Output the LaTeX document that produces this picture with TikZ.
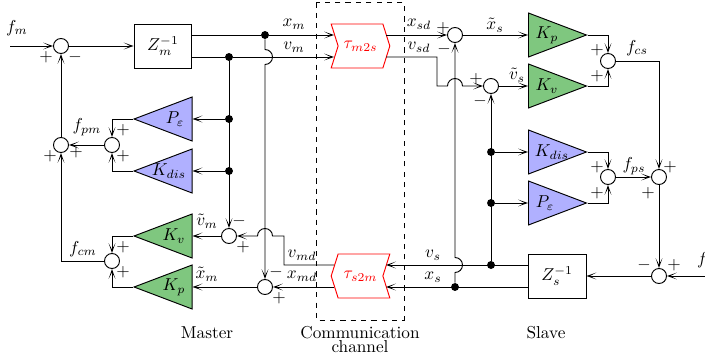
\documentclass[tikz,border=0pt]{standalone}
\usepackage{xcolor}
\usetikzlibrary{shapes.geometric, shapes.symbols, arrows.meta}
\definecolor{gaingreen}{HTML}{7FC77F}
\definecolor{gainblue}{HTML}{B0B0FF}
\begin{document}
\begin{tikzpicture}[
    x=0.58pt, y=-0.58pt,
    lw/.style={line width=0.55pt},
    sumj/.style={circle, draw, lw, fill=white, minimum size=8.7pt, inner sep=0pt},
    dotj/.style={circle, fill=black, minimum size=4.6pt, inner sep=0pt},
    gainr/.style={isosceles triangle, isosceles triangle stretches, draw, lw,
      minimum width=25.5pt, minimum height=33.6pt, inner sep=0pt, anchor=lower side},
    gainl/.style={gainr, shape border rotate=180},
    greeng/.style={fill=gaingreen},
    blueg/.style={fill=gainblue},
    zbox/.style={rectangle, draw, lw, minimum width=33.6pt, minimum height=25.5pt, inner sep=0pt},
    delayb/.style={signal, signal from=west, signal to=east, signal pointer angle=145,
      draw=red, lw, text=red, minimum width=34pt, minimum height=25.5pt, inner sep=0pt},
    delayc/.style={delayb, signal from=east, signal to=west},
    wire/.style={lw},
    arr/.style={lw, -{Stealth[length=5.8pt, width=4pt, inset=3.8pt, line width=0pt]}},
    lab/.style={inner sep=0pt},
  ]
  \useasboundingbox (0,0) rectangle (705,360);

  % channel frame
  \draw[lw, dashed] (316.5,2.5) rectangle (404,320);

  % master
  \node[sumj] (s0) at (61,46) {};
  \node[zbox] (zm) at (163,46) {$Z_m^{-1}$};
  \node[gainl, blueg] (pm) at (192.5,119) {};
  \node[gainl, blueg] (kdm) at (192.5,171) {};
  \node[gainl, greeng] (kvm) at (192.5,236) {};
  \node[gainl, greeng] (kpm) at (192.5,287) {};
  \node[sumj] (s1) at (112,145) {};
  \node[sumj] (s2) at (61,145) {};
  \node[sumj] (s3) at (112,261) {};
  \node[sumj] (s4) at (229,236) {};
  \node[sumj] (s5) at (265,287) {};
  \node[dotj] (jxm) at (265,35) {};
  \node[dotj] (jvm) at (229,57) {};
  \node[dotj] (jpm) at (229,119) {};
  \node[dotj] (jdm) at (229,171) {};

  % channel
  \node[delayb] (tm) at (360.5,46) {$\tau_{m2s}$};
  \node[delayc] (ts) at (360.5,276) {$\tau_{s2m}$};
  \coordinate (tmx) at (334,35);
  \coordinate (tmv) at (334,57);
  \coordinate (tmxo) at (386,35);
  \coordinate (tmvo) at (386,57);
  \coordinate (tsv) at (386,265);
  \coordinate (tsx) at (386,287);
  \coordinate (tsvo) at (334,265);
  \coordinate (tsxo) at (334,287);

  % slave
  \node[sumj] (s6) at (455,35) {};
  \node[sumj] (s7) at (491,86) {};
  \node[gainr, greeng] (kps) at (528,35) {};
  \node[gainr, greeng] (kvs) at (528,86) {};
  \node[gainr, blueg] (kds) at (528,152) {};
  \node[gainr, blueg] (ps) at (528,203) {};
  \node[zbox] (zs) at (557,276) {$Z_s^{-1}$};
  \node[sumj] (s8) at (608,61) {};
  \node[sumj] (s9) at (608,177) {};
  \node[sumj] (s10) at (659,177) {};
  \node[sumj] (s11) at (659,276) {};
  \node[dotj] (jvs) at (491,265) {};
  \node[dotj] (jxs) at (455,287) {};
  \node[dotj] (jds) at (491,152) {};
  \node[dotj] (jps) at (491,203) {};
  \coordinate (fmin) at (10,46);
  \coordinate (fsin) at (705,276);

  % master wires
  \draw[arr] (fmin) -- (s0);
  \draw[arr] (s0) -- (zm);
  \draw[wire] (jxm -| zm.east) -- (jxm);
  \draw[wire] (jvm -| zm.east) -- (jvm);
  \draw[arr] (jxm) -- (tmx);
  \draw[arr] (jvm) -- (tmv);
  \draw[arr] (jxm) -- (265,49.5) arc[start angle=-90, end angle=90, radius=7.5] -- (s5);
  \draw[arr] (jvm) -- (s4);
  \draw[arr] (jpm) -- (pm.lower side);
  \draw[arr] (jdm) -- (kdm.lower side);
  \draw[arr] (s4) -- (kvm.lower side);
  \draw[arr] (s5) -- (kpm.lower side);
  \draw[arr] (pm.apex) -| (s1);
  \draw[arr] (kdm.apex) -| (s1);
  \draw[arr] (kvm.apex) -| (s3);
  \draw[arr] (kpm.apex) -| (s3);
  \draw[arr] (s1) -- (s2);
  \draw[arr] (s2) -- (s0);
  \draw[arr] (s3) -| (s2);
  \draw[arr] (tsvo) -- (284,265) -- (284,236) -- (272.5,236) arc[start angle=0, end angle=-180, radius=7.5] -- (s4);
  \draw[arr] (tsxo) -- (s5);

  % slave wires
  \draw[arr] (tmxo) -- (s6);
  \draw[arr] (tmvo) -- (437,57) -- (437,86) -- (447.5,86) arc[start angle=180, end angle=360, radius=7.5] -- (s7);
  \draw[arr] (s6) -- (kps.lower side);
  \draw[arr] (s7) -- (kvs.lower side);
  \draw[arr] (jxs) -- (455,272.5) arc[start angle=90, end angle=-90, radius=7.5] -- (s6);
  \draw[arr] (jvs) -- (s7);
  \draw[arr] (jds) -- (kds.lower side);
  \draw[arr] (jps) -- (ps.lower side);
  \draw[arr] (kps.apex) -| (s8);
  \draw[arr] (kvs.apex) -| (s8);
  \draw[arr] (kds.apex) -| (s9);
  \draw[arr] (ps.apex) -| (s9);
  \draw[arr] (s8) -| (s10);
  \draw[arr] (s9) -- (s10);
  \draw[arr] (s10) -- (s11);
  \draw[arr] (fsin) -- (s11);
  \draw[arr] (s11) -- (zs);
  \draw[arr] (jvs -| zs.west) -- (tsv);
  \draw[arr] (jxs -| zs.west) -- (tsx);

  % gain labels
  \node[lab] (lpm) at (175,119) {$P_\varepsilon$};
  \node[lab] (lkdm) at (169,171) {$K_{dis}$};
  \node[lab] (lkvm) at (174,236) {$K_v$};
  \node[lab] (lkpm) at (174,287) {$K_p$};
  \node[lab] (lkps) at (547,35) {$K_p$};
  \node[lab] (lkvs) at (547,86) {$K_v$};
  \node[lab] (lkds) at (552,152) {$K_{dis}$};
  \node[lab] (lps) at (545,203) {$P_\varepsilon$};

  % signal labels
  \node[lab] (lfm) at (17,28) {$f_m$};
  \node[lab] (lxm) at (294,24) {$x_m$};
  \node[lab] (lvm) at (294,47) {$v_m$};
  \node[lab] (lfpm) at (87,127) {$f_{pm}$};
  \node[lab] (lfcm) at (83,249) {$f_{cm}$};
  \node[lab] (ltvm) at (207,221) {$\tilde{v}_m$};
  \node[lab] (ltxm) at (207,274) {$\tilde{x}_m$};
  \node[lab] (lvmd) at (302,255) {$v_{md}$};
  \node[lab] (lxmd) at (302,276) {$x_{md}$};
  \node[lab] (lxsd) at (419,24) {$x_{sd}$};
  \node[lab] (lvsd) at (419,47) {$v_{sd}$};
  \node[lab] (ltxs) at (495,25) {$\tilde{x}_s$};
  \node[lab] (ltvs) at (517,75) {$\tilde{v}_s$};
  \node[lab] (lfcs) at (637,48) {$f_{cs}$};
  \node[lab] (lfps) at (634,166) {$f_{ps}$};
  \node[lab] (lvs) at (433,255) {$v_s$};
  \node[lab] (lxs) at (433,277) {$x_s$};
  \node[lab] (lfs) at (705,260) {$f_s$};

  % signs
  \node[lab] (a1) at (46,57) {$+$};
  \node[lab] (a2) at (75,57) {$-$};
  \node[lab] (a3) at (123,130) {$+$};
  \node[lab] (a4) at (123,156) {$+$};
  \node[lab] (a5) at (50,156) {$+$};
  \node[lab] (a6) at (76,152) {$+$};
  \node[lab] (a7) at (123,247) {$+$};
  \node[lab] (a8) at (123,272) {$+$};
  \node[lab] (a9) at (239,221) {$-$};
  \node[lab] (a10) at (243,247) {$+$};
  \node[lab] (a11) at (276,272) {$-$};
  \node[lab] (a12) at (279,298) {$+$};
  \node[lab] (a13) at (443,28) {$+$};
  \node[lab] (a14) at (444,49) {$-$};
  \node[lab] (a15) at (476,79) {$+$};
  \node[lab] (a16) at (480,101) {$-$};
  \node[lab] (a17) at (597,50) {$+$};
  \node[lab] (a18) at (597,76) {$+$};
  \node[lab] (a19) at (597,167) {$+$};
  \node[lab] (a20) at (597,193) {$+$};
  \node[lab] (a21) at (670,167) {$+$};
  \node[lab] (a22) at (648,193) {$+$};
  \node[lab] (a23) at (644,265) {$-$};
  \node[lab] (a24) at (674,265) {$+$};

  % captions
  \node[lab] (cm) at (207,333) {Master};
  \node[lab] (cc) at (360,333) {Communication};
  \node[lab] (cd) at (360,347) {channel};
  \node[lab] (cs) at (546,333) {Slave};
\end{tikzpicture}
\end{document}
